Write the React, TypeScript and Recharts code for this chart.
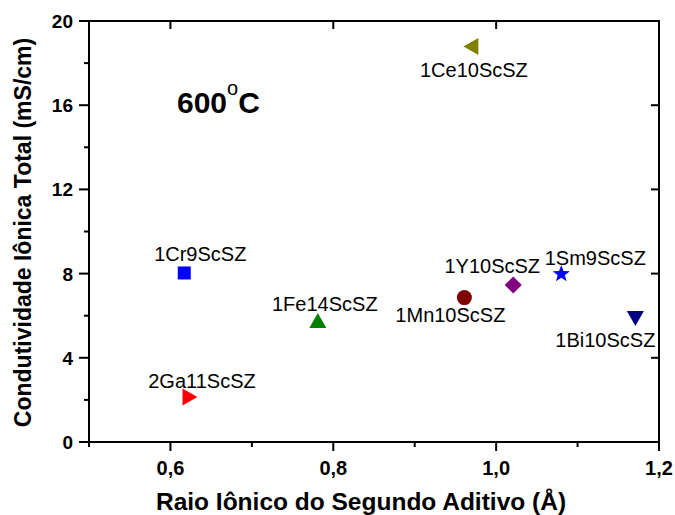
import React from 'react';
import { ScatterChart, Scatter, XAxis, YAxis } from 'recharts';

const samples = ['1Cr9ScSZ', '2Ga11ScSZ', '1Fe14ScSZ', '1Mn10ScSZ', '1Y10ScSZ', '1Sm9ScSZ', '1Bi10ScSZ', '1Ce10ScSZ'];
const ionicRadius = [0.617, 0.624, 0.781, 0.961, 1.021, 1.08, 1.171, 0.969];
const conductivity = [8.03, 2.14, 5.75, 6.86, 7.46, 7.98, 5.89, 18.79];

const xTicks = [0.5, 0.6, 0.7, 0.8, 0.9, 1.0, 1.1, 1.2];
const xTickLabels = ['', '0,6', '', '0,8', '', '1,0', '', '1,2'];
const yTicks = [0, 2, 4, 6, 8, 10, 12, 14, 16, 18, 20];
const yTickLabels = ['0', '', '4', '', '8', '', '12', '', '16', '', '20'];
const topTicks = [0.6, 0.8, 1.0];
const rightTicks = [4, 8, 12, 16];
const xDomain = [0.5, 1.2];
const yDomain = [0, 20];

// marker look + label offset for each sample
const markerStyle: Record<string, { shape: string; color: string; dx: number; dy: number }> = {
    '1Cr9ScSZ': { shape: 'square', color: '#0000ff', dx: 16, dy: -12 },
    '2Ga11ScSZ': { shape: 'right', color: '#ff0000', dx: 12, dy: -9 },
    '1Fe14ScSZ': { shape: 'up', color: '#008000', dx: 7, dy: -10 },
    '1Mn10ScSZ': { shape: 'circle', color: '#800000', dx: -14, dy: 24 },
    '1Y10ScSZ': { shape: 'diamond', color: '#800080', dx: -21, dy: -12 },
    '1Sm9ScSZ': { shape: 'star', color: '#0000ff', dx: 34, dy: -9 },
    '1Bi10ScSZ': { shape: 'down', color: '#000080', dx: -30, dy: 29 },
    '1Ce10ScSZ': { shape: 'left', color: '#808000', dx: 3, dy: 31 },
};

const W = 675;
const H = 515;
const plotLeft = 89;
const plotRight = 659;
const plotTop = 21;
const plotBottom = 442;
const font = '"Liberation Sans", Arial, sans-serif';

const starPoints = (cx: number, cy: number, ro: number, ri: number) => {
    const pts: string[] = [];
    for (let i = 0; i < 10; i++) {
        const r = i % 2 === 0 ? ro : ri;
        const a = -Math.PI / 2 + (i * Math.PI) / 5;
        pts.push(`${cx + r * Math.cos(a)},${cy + r * Math.sin(a)}`);
    }
    return pts.join(' ');
};

const Marker = (props: any) => {
    const { cx, cy, payload } = props;
    const st = markerStyle[payload.name];
    let mark: React.ReactNode = null;
    const c = st.color;
    if (st.shape === 'square') mark = <rect x={cx - 6.5} y={cy - 6.5} width={13} height={13} fill={c} />;
    if (st.shape === 'circle') mark = <circle cx={cx} cy={cy} r={7.5} fill={c} />;
    if (st.shape === 'diamond') mark = <polygon points={`${cx},${cy - 8.5} ${cx + 8.5},${cy} ${cx},${cy + 8.5} ${cx - 8.5},${cy}`} fill={c} />;
    if (st.shape === 'star') mark = <polygon points={starPoints(cx, cy, 9, 3.8)} fill={c} />;
    if (st.shape === 'up') mark = <polygon points={`${cx},${cy - 8} ${cx + 8.5},${cy + 7} ${cx - 8.5},${cy + 7}`} fill={c} />;
    if (st.shape === 'down') mark = <polygon points={`${cx - 8.5},${cy - 7} ${cx + 8.5},${cy - 7} ${cx},${cy + 8}`} fill={c} />;
    if (st.shape === 'left') mark = <polygon points={`${cx - 7.5},${cy} ${cx + 7.5},${cy - 8.5} ${cx + 7.5},${cy + 8.5}`} fill={c} />;
    if (st.shape === 'right') mark = <polygon points={`${cx + 7.5},${cy} ${cx - 7.5},${cy - 8.5} ${cx - 7.5},${cy + 8.5}`} fill={c} />;
    return (
        <g>
            {mark}
            <text x={cx + st.dx} y={cy + st.dy} textAnchor="middle" fontFamily={font} fontSize={20} fill="#000">
                {payload.name}
            </text>
        </g>
    );
};

const BottomTick = (props: any) => {
    const { x, payload } = props;
    const i = xTicks.indexOf(payload.value);
    const label = xTickLabels[i] || '';
    const len = label ? 9 : 5;
    return (
        <g>
            <line x1={x} x2={x} y1={plotBottom} y2={plotBottom + len} stroke="#000" strokeWidth={2} />
            {label && (
                <text x={x} y={475} textAnchor="middle" fontFamily={font} fontSize={20} fontWeight="bold" fill="#000">
                    {label}
                </text>
            )}
        </g>
    );
};

const LeftTick = (props: any) => {
    const { y, payload } = props;
    const i = yTicks.indexOf(payload.value);
    const label = yTickLabels[i] || '';
    const len = label ? 10 : 5;
    return (
        <g>
            <line x1={plotLeft - len} x2={plotLeft} y1={y} y2={y} stroke="#000" strokeWidth={2} />
            {label && (
                <text x={73} y={y + 7} textAnchor="end" fontFamily={font} fontSize={19} fontWeight="bold" fill="#000">
                    {label}
                </text>
            )}
        </g>
    );
};

// top/right frame with inward major ticks, laid over the plot box
const Frame = () => {
    const sx = (v: number) => plotLeft + ((v - xDomain[0]) / (xDomain[1] - xDomain[0])) * (plotRight - plotLeft);
    const sy = (v: number) => plotBottom - ((v - yDomain[0]) / (yDomain[1] - yDomain[0])) * (plotBottom - plotTop);
    return (
        <g stroke="#000" strokeWidth={2}>
            <line x1={plotLeft - 1} x2={plotRight + 1} y1={plotTop} y2={plotTop} />
            <line x1={plotRight} x2={plotRight} y1={plotTop} y2={plotBottom + 9} />
            {topTicks.map((t) => (
                <line key={`t${t}`} x1={sx(t)} x2={sx(t)} y1={plotTop} y2={plotTop + 8} />
            ))}
            {rightTicks.map((t) => (
                <line key={`r${t}`} x1={plotRight - 8} x2={plotRight} y1={sy(t)} y2={sy(t)} />
            ))}
        </g>
    );
};

const App = () => {
    const data = samples.map((name, i) => ({ name, x: ionicRadius[i], y: conductivity[i] }));
    const axisLine = { stroke: '#000', strokeWidth: 2 };
    return (
        <div style={{ position: 'absolute', left: 0, top: 0, width: W, height: H, background: '#fff' }}>
            <ScatterChart width={W} height={H} margin={{ top: plotTop, right: W - plotRight, left: 0, bottom: 0 }}>
                <XAxis
                    type="number"
                    dataKey="x"
                    domain={xDomain}
                    ticks={xTicks}
                    interval={0}
                    height={H - plotBottom}
                    axisLine={axisLine}
                    tickLine={false}
                    tick={<BottomTick />}
                    label={{
                        content: () => (
                            <text x={361} y={510} textAnchor="middle" fontFamily={font} fontSize={24.5} fontWeight="bold" fill="#000">
                                Raio Iônico do Segundo Aditivo (Å)
                            </text>
                        ),
                    }}
                />
                <YAxis
                    type="number"
                    dataKey="y"
                    domain={yDomain}
                    ticks={yTicks}
                    interval={0}
                    width={plotLeft}
                    axisLine={axisLine}
                    tickLine={false}
                    tick={<LeftTick />}
                    label={{
                        content: () => (
                            <text
                                x={0}
                                y={0}
                                transform={`translate(31, ${(plotTop + plotBottom) / 2 + 1}) rotate(-90)`}
                                textAnchor="middle"
                                fontFamily={font}
                                fontSize={23}
                                fontWeight="bold"
                                fill="#000"
                            >
                                Condutividade Iônica Total (mS/cm)
                            </text>
                        ),
                    }}
                />
                {data.map((d) => (
                    <Scatter key={d.name} name={d.name} data={[d]} shape={<Marker />} isAnimationActive={false} />
                ))}
            </ScatterChart>
            <svg width={W} height={H} style={{ position: 'absolute', left: 0, top: 0, pointerEvents: 'none' }}>
                <Frame />
                <text x={177} y={113} fontFamily={font} fontSize={30} fontWeight="bold" fill="#000">
                    600
                    <tspan dy={-18} fontSize={20} fontWeight="normal">o</tspan>
                    <tspan dy={18}>C</tspan>
                </text>
            </svg>
        </div>
    );
};

export default App;
